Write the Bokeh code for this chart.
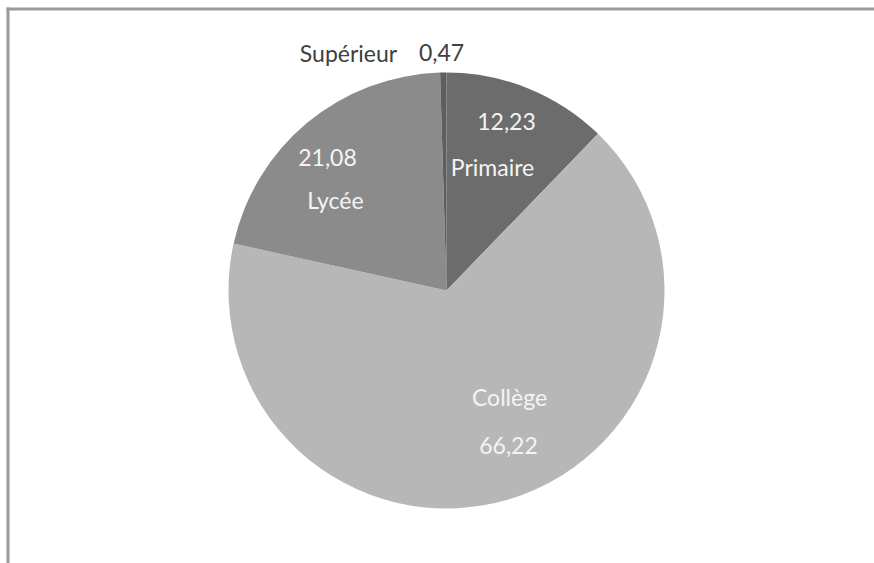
import numpy as np
from bokeh.plotting import figure
from bokeh.models import Range1d, ColumnDataSource
from bokeh.core.properties import value
from bokeh.embed import file_html
from bokeh.resources import INLINE

# Data
categories = ["Primaire", "Collège", "Lycée", "Supérieur"]
values = [12.23, 66.22, 21.08, 0.47]
value_labels = ["12,23", "66,22", "21,08", "0,47"]

colors = ["#6c6c6c", "#b7b7b7", "#8b8b8b", "#5e5e5e"]

W, H = 874, 563
p = figure(width=W, height=H, output_backend="svg", toolbar_location=None,
           x_range=Range1d(0, W), y_range=Range1d(0, H), min_border=0)
p.axis.visible = False
p.grid.visible = False
p.outline_line_color = None
p.background_fill_color = "white"
p.border_fill_color = "white"

# frame lines (top and left), screen coordinates
def sy(y):
    return H - y

p.line(x=[6, W], y=[sy(8.5), sy(8.5)], line_color="#9a9a9a", line_width=3)
p.line(x=[7.5, 7.5], y=[0, sy(7)], line_color="#9a9a9a", line_width=3)

cx, cy, r = 446, 290, 218
vals = np.array(values)
frac = vals / vals.sum()
cum = np.concatenate([[0], np.cumsum(frac)]) * 2 * np.pi
start = np.pi / 2 - cum[1:]
end = np.pi / 2 - cum[:-1]
src = ColumnDataSource(dict(start=start, end=end, color=colors, cat=categories))
p.wedge(x=cx, y=sy(cy), radius=r, radius_units="screen", start_angle="start", end_angle="end",
        fill_color="color", line_color=None, source=src)

font = value("Lato")
def lbl(x, y, t, c):
    p.text(x=[x], y=[sy(y)], text=[t], text_font=font, text_font_size="23px",
           text_color=c, text_align="center", text_baseline="middle")

pos = {
    "Primaire": ((506, 121, value_labels[0]), (492, 166, categories[0])),
    "Collège": ((508, 445, value_labels[1]), (509, 396, categories[1])),
    "Lycée": ((327, 157, value_labels[2]), (335, 199, categories[2])),
    "Supérieur": ((441, 52, value_labels[3]), (348, 52, categories[3])),
}
for cat in categories:
    col = "#404040" if cat == "Supérieur" else "#f4f4f4"
    for (x, y, t) in pos[cat]:
        lbl(x, y, t, col)

open("out.html", "w").write(file_html(p, INLINE))
